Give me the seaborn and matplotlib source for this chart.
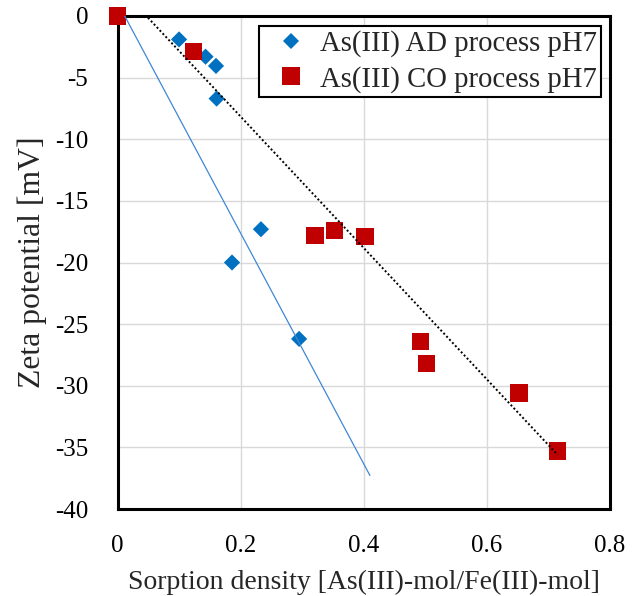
import numpy as np
import pandas as pd
import matplotlib
matplotlib.use("Agg")
import matplotlib.pyplot as plt
import seaborn as sns

# Sorption density vs zeta potential, As(III) adsorption (AD) and coprecipitation (CO)
ad_density = [0.100, 0.143, 0.160, 0.161, 0.186, 0.233, 0.295]
ad_zeta = [-1.9, -3.3, -4.05, -6.7, -20.0, -17.3, -26.2]

co_density = [0.000, 0.124, 0.321, 0.353, 0.402, 0.492, 0.502, 0.652, 0.715]
co_zeta = [0.0, -2.9, -17.8, -17.4, -17.9, -26.4, -28.2, -30.6, -35.3]

ad_label = "As(III) AD process pH7"
co_label = "As(III) CO process pH7"

# Linear trend lines: (x_start, x_end, intercept, slope)
ad_trend = (0.0, 0.41, 1.1, -93.6)
co_trend = (0.0, 0.715, 2.5, -53.3)

x_ticks = [0, 0.2, 0.4, 0.6, 0.8]
x_tick_labels = ["0", "0.2", "0.4", "0.6", "0.8"]
y_ticks = [0, -5, -10, -15, -20, -25, -30, -35, -40]

sns.set_style("white")
plt.rcParams["font.family"] = ["Liberation Serif", "DejaVu Serif"]
plt.rcParams["axes.unicode_minus"] = False

df = pd.concat([
    pd.DataFrame({"density": ad_density, "zeta": ad_zeta, "series": ad_label}),
    pd.DataFrame({"density": co_density, "zeta": co_zeta, "series": co_label}),
], ignore_index=True)

fig = plt.figure(figsize=(6.32, 5.96), dpi=100)
ax = fig.add_axes([117.5 / 632, 1 - 509 / 596, (610 - 117.5) / 632, (509 - 16) / 596])

ax.grid(True, color="#d9d9d9", linewidth=1.0)
ax.set_axisbelow(True)

sns.scatterplot(
    data=df, x="density", y="zeta", hue="series", style="series",
    palette={ad_label: "#0070c0", co_label: "#c00000"},
    markers={ad_label: "D", co_label: "s"},
    size="series", sizes={ad_label: 68, co_label: 155},
    edgecolor="none", linewidth=0, ax=ax, clip_on=False, zorder=3,
)

for (x0, x1, b, m), style in [
    (ad_trend, dict(color="#3f87d6", linewidth=0.9, linestyle="-")),
    (co_trend, dict(color="black", linewidth=1.4, linestyle=(0, (1, 1.2)))),
]:
    xs = np.array([x0, x1])
    ax.plot(xs, b + m * xs, zorder=4, **style)

ax.set_xlim(0, 0.8)
ax.set_ylim(-40, 0)
ax.set_xticks(x_ticks)
ax.set_xticklabels(x_tick_labels)
ax.set_yticks(y_ticks)
ax.tick_params(axis="both", length=0, labelsize=18, colors="black")
ax.tick_params(axis="x", pad=19)
ax.tick_params(axis="y", pad=21)

for sp in ax.spines.values():
    sp.set_visible(True)
    sp.set_color("black")
    sp.set_linewidth(2.2)

ax.set_xlabel("Sorption density [As(III)-mol/Fe(III)-mol]", fontsize=20, labelpad=9)
ax.set_ylabel("Zeta potential [mV]", fontsize=22.8, labelpad=6)

handles, labels = ax.get_legend_handles_labels()
leg = ax.legend(
    handles, labels, loc="upper right", bbox_to_anchor=(0.982, 0.98),
    borderaxespad=0, fontsize=20.7, frameon=True, fancybox=False,
    framealpha=1, edgecolor="black", handletextpad=0.06, borderpad=0.15,
    labelspacing=0.3, handlelength=1.9,
)
leg.get_frame().set_linewidth(1.5)

fig.savefig("out.png", dpi=100)
